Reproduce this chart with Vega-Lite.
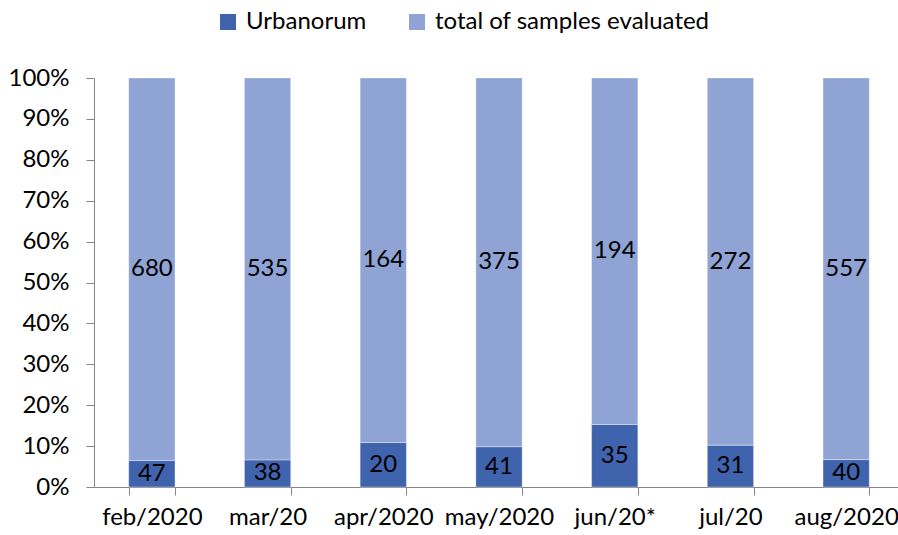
{
  "$schema": "https://vega.github.io/schema/vega-lite/v6.json",
  "width": 810,
  "height": 409,
  "autosize": {"type": "none"},
  "padding": {"left": 94, "top": 78, "right": 0, "bottom": 48},
  "background": "white",
  "config": {
    "view": {"stroke": null},
    "font": "Lato",
    "axis": {"labelFont": "Lato", "labelFontSize": 24, "labelColor": "#000000", "domainColor": "#868686", "tickColor": "#868686", "grid": false, "title": null, "tickSize": 8}
  },
  "data": {
    "values": [
      {"month": "feb/2020", "series": "Urbanorum", "value": 47},
      {"month": "feb/2020", "series": "total of samples evaluated", "value": 680},
      {"month": "mar/20", "series": "Urbanorum", "value": 38},
      {"month": "mar/20", "series": "total of samples evaluated", "value": 535},
      {"month": "apr/2020", "series": "Urbanorum", "value": 20},
      {"month": "apr/2020", "series": "total of samples evaluated", "value": 164},
      {"month": "may/2020", "series": "Urbanorum", "value": 41},
      {"month": "may/2020", "series": "total of samples evaluated", "value": 375},
      {"month": "jun/20*", "series": "Urbanorum", "value": 35},
      {"month": "jun/20*", "series": "total of samples evaluated", "value": 194},
      {"month": "jul/20", "series": "Urbanorum", "value": 31},
      {"month": "jul/20", "series": "total of samples evaluated", "value": 272},
      {"month": "aug/2020", "series": "Urbanorum", "value": 40},
      {"month": "aug/2020", "series": "total of samples evaluated", "value": 557}
    ]
  },
  "encoding": {
    "x": {
      "field": "month", "type": "nominal", "sort": null,
      "scale": {"paddingInner": 0.6, "paddingOuter": 0.3},
      "axis": {"tickBand": "extent", "labelAngle": 0, "labelPadding": 10, "labelFontSize": 24}
    }
  },
  "layer": [
    {
      "mark": {"type": "bar", "stroke": "#ffffff", "strokeWidth": 0.6, "strokeOpacity": 0.6},
      "encoding": {
        "y": {
          "field": "value", "type": "quantitative", "stack": "normalize",
          "scale": {"domain": [0, 1]},
          "axis": {"values": [0, 0.1, 0.2, 0.3, 0.4, 0.5, 0.6, 0.7, 0.8, 0.9, 1], "format": ".0%", "labelPadding": 17}
        },
        "color": {
          "field": "series", "type": "nominal",
          "scale": {"domain": ["Urbanorum", "total of samples evaluated"], "range": ["#3F64AD", "#8FA3D4"]},
          "legend": {
            "orient": "none", "legendX": 122, "legendY": -68, "direction": "horizontal", "title": null,
            "symbolType": "square", "symbolSize": 256, "symbolStrokeWidth": 0, "symbolOpacity": 1,
            "labelFontSize": 24, "labelFont": "Lato", "labelColor": "#000000", "labelOffset": 6, "columnPadding": 38, "labelLimit": 0
          }
        },
        "order": {"field": "series", "sort": "ascending"}
      }
    },
    {
      "mark": {"type": "text", "fontSize": 24, "font": "Lato", "color": "#000000", "baseline": "middle"},
      "encoding": {
        "y": {"field": "value", "type": "quantitative", "stack": "normalize", "bandPosition": 0.5},
        "text": {"field": "value", "type": "quantitative"},
        "detail": {"field": "series"},
        "order": {"field": "series", "sort": "ascending"}
      }
    }
  ]
}
